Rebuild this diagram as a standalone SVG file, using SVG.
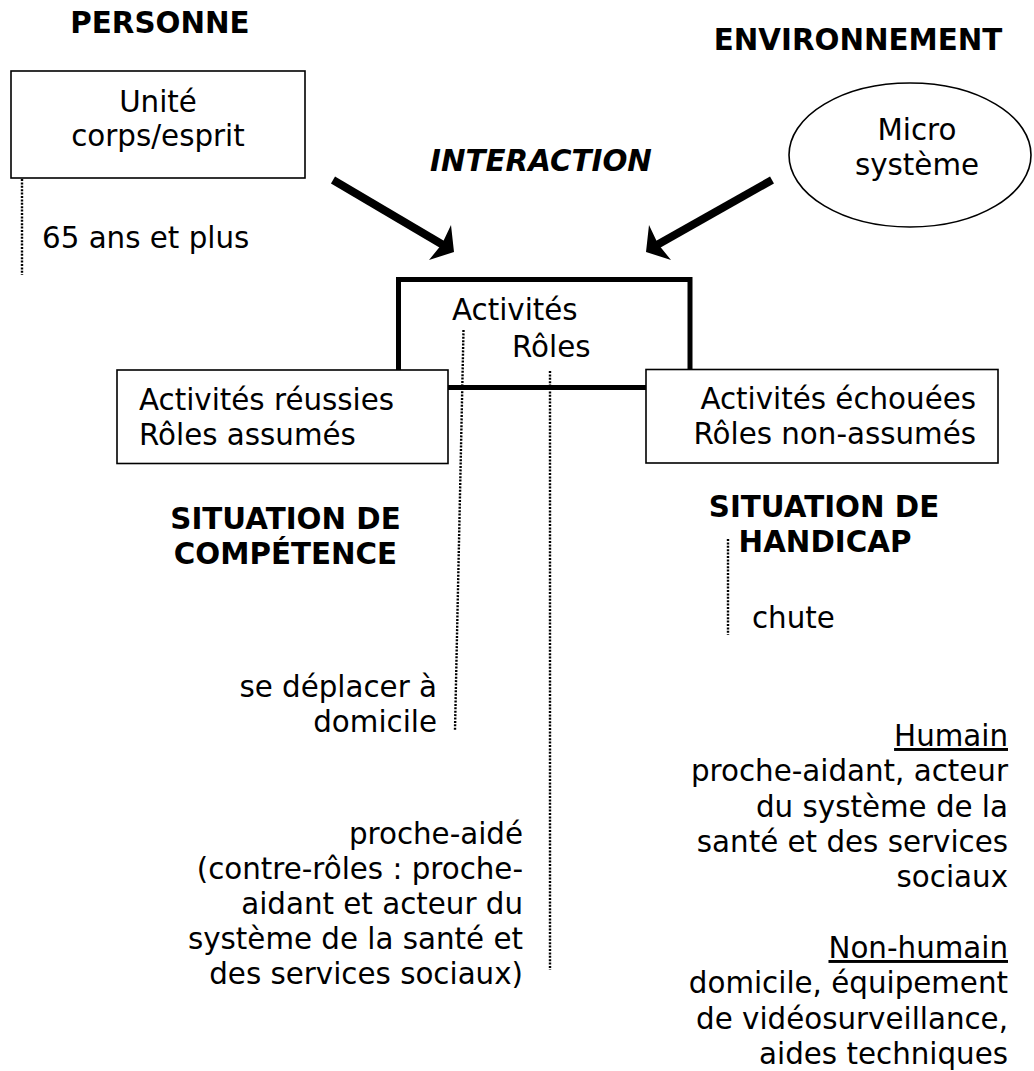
<svg xmlns="http://www.w3.org/2000/svg" width="1034" height="1071" viewBox="0 0 1034 1071">
<style>
text{font-family:"DejaVu Sans","Liberation Sans",sans-serif;font-size:29.33px;fill:#000}
.b{font-weight:bold}
.bi{font-weight:bold;font-style:italic}
.m{text-anchor:middle}
.e{text-anchor:end}
.u{text-decoration:underline}
.box{fill:#fff;stroke:#000;stroke-width:1.6}
.thick{fill:#fff;stroke:#000;stroke-width:5}
.dot{fill:none;stroke:#000;stroke-width:2.4;stroke-dasharray:2 1.4}
.shaft{fill:none;stroke:#000;stroke-width:8}
.head{fill:#000;stroke:none}
</style>
<rect width="1034" height="1071" fill="#fff"/>

<g id="titles">
<text class="b m" x="160" y="33">PERSONNE</text>
<text class="b m" x="858" y="50">ENVIRONNEMENT</text>
<text class="bi m" x="541" y="171">INTERACTION</text>
</g>

<g id="activites-roles">
<rect class="thick" x="398.5" y="279.5" width="291.5" height="108"/>
<text x="452" y="320">Activités</text>
<text x="512" y="357">Rôles</text>
</g>

<g id="personne">
<rect class="box" x="11" y="71" width="294" height="107"/>
<text class="m" x="158" y="112">Unité</text>
<text class="m" x="158" y="146">corps/esprit</text>
</g>

<g id="micro-systeme">
<ellipse class="box" cx="910" cy="155" rx="121" ry="72"/>
<text class="m" x="917" y="140">Micro</text>
<text class="m" x="917" y="175">système</text>
</g>

<g id="reussies">
<rect class="box" x="117" y="370" width="331" height="93.5"/>
<text x="139" y="410">Activités réussies</text>
<text x="139" y="445">Rôles assumés</text>
</g>

<g id="echouees">
<rect class="box" x="646" y="369.5" width="352" height="93.5"/>
<text class="e" x="976" y="409">Activités échouées</text>
<text class="e" x="976" y="444">Rôles non-assumés</text>
</g>

<g id="connectors">
<line class="shaft" x1="333" y1="180" x2="444" y2="245.5"/>
<path class="head" d="M454,252 L451,225 L442,244 L429,260 Z"/>
<line class="shaft" x1="772" y1="180" x2="656" y2="245.5"/>
<path class="head" d="M646,252 L649,225 L658,244 L671,260 Z"/>
<line class="dot" x1="22" y1="179" x2="22" y2="275"/>
<line class="dot" x1="463.5" y1="330" x2="455" y2="730"/>
<line class="dot" x1="550" y1="371" x2="550" y2="970"/>
<line class="dot" x1="728" y1="539" x2="728" y2="635"/>
</g>

<g id="age">
<text x="42" y="248">65 ans et plus</text>
</g>

<g id="competence">
<text class="b m" x="285.5" y="529">SITUATION DE</text>
<text class="b m" x="285.5" y="564">COMPÉTENCE</text>
</g>

<g id="handicap">
<text class="b m" x="824" y="517">SITUATION DE</text>
<text class="b m" x="825" y="552">HANDICAP</text>
</g>

<g id="chute">
<text x="752" y="628">chute</text>
</g>

<g id="deplacer">
<text class="e" x="437" y="697">se déplacer à</text>
<text class="e" x="437" y="732">domicile</text>
</g>

<g id="proche-aide">
<text class="e" x="523" y="844">proche-aidé</text>
<text class="e" x="523" y="879">(contre-rôles : proche-</text>
<text class="e" x="523" y="914">aidant et acteur du</text>
<text class="e" x="523" y="949">système de la santé et</text>
<text class="e" x="523" y="984">des services sociaux)</text>
</g>

<g id="humain">
<text class="e u" x="1008" y="746">Humain</text>
<text class="e" x="1008" y="781">proche-aidant, acteur</text>
<text class="e" x="1008" y="817">du système de la</text>
<text class="e" x="1008" y="852">santé et des services</text>
<text class="e" x="1008" y="887">sociaux</text>
</g>

<g id="non-humain">
<text class="e u" x="1008" y="958">Non-humain</text>
<text class="e" x="1008" y="993">domicile, équipement</text>
<text class="e" x="1008" y="1029">de vidéosurveillance,</text>
<text class="e" x="1008" y="1064">aides techniques</text>
</g>
</svg>
